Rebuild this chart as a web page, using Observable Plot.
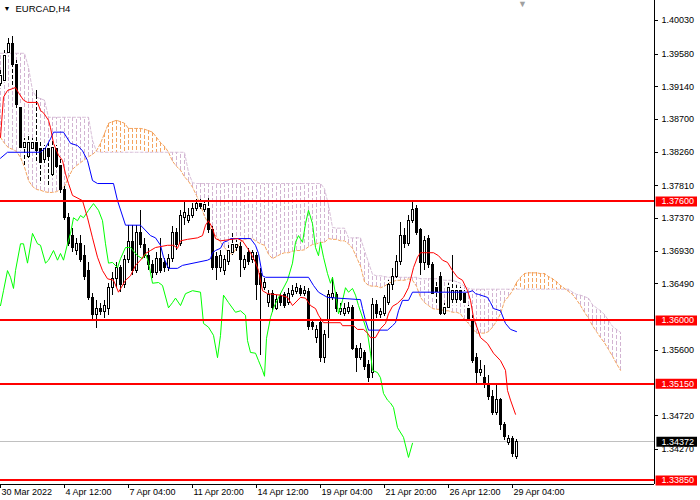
<!DOCTYPE html>
<html><head><meta charset="utf-8">
<script src="https://cdn.jsdelivr.net/npm/d3@7"></script>
<script src="https://cdn.jsdelivr.net/npm/@observablehq/plot@0.6"></script>
<style>body{margin:0;background:#fff;}</style>
</head><body><div id="chart"></div>
<script>
// ---- data (EURCAD H4, bar index 0 = 30 Mar 2022 20:00) ----
const symbolTitle = "EURCAD,H4";
const opens = [1.3918,1.3922,1.3960,1.3971,1.3943,1.3886,1.3832,1.3819,1.3831,1.3838,
1.3831,1.3815,1.3831,1.3795,1.3831,1.3808,1.3775,1.3738,1.3714,1.3694,
1.3703,1.3687,1.3667,1.3630,1.3607,1.3616,1.3611,1.3616,1.3644,1.3656,
1.3670,1.3647,1.3681,1.3705,1.3667,1.3718,1.3701,1.3687,1.3674,1.3664,
1.3683,1.3677,1.3670,1.3683,1.3717,1.3703,1.3737,1.3734,1.3741,1.3750,
1.3757,1.3748,1.3750,1.3721,1.3685,1.3671,1.3667,1.3678,1.3691,1.3697,
1.3699,1.3671,1.3690,1.3681,1.3687,1.3663,1.3644,1.3623,1.3636,1.3616,
1.3631,1.3634,1.3624,1.3634,1.3638,1.3642,1.3636,1.3638,1.3596,1.3577,
1.3596,1.3549,1.3600,1.3630,1.3634,1.3611,1.3609,1.3611,1.3617,1.3562,
1.3550,1.3556,1.3540,1.3530,1.3621,1.3607,1.3609,1.3624,1.3647,1.3658,
1.3678,1.3714,1.3703,1.3734,1.3750,1.3721,1.3677,1.3710,1.3674,1.3643,
1.3658,1.3609,1.3617,1.3627,1.3627,1.3640,1.3636,1.3616,1.3600,1.3549,
1.3529,1.3523,1.3515,1.3497,1.3476,1.3493,1.3459,1.3436,1.3441,1.3417];
const highs = [1.3936,1.3963,1.3979,1.3982,1.3949,1.3889,1.3844,1.3849,1.3844,1.3909,
1.3842,1.3835,1.3839,1.3842,1.3835,1.3819,1.3780,1.3744,1.3724,1.3710,
1.3714,1.3701,1.3678,1.3636,1.3627,1.3623,1.3627,1.3650,1.3664,1.3678,
1.3674,1.3687,1.3728,1.3728,1.3728,1.3748,1.3710,1.3697,1.3681,1.3691,
1.3710,1.3683,1.3689,1.3726,1.3724,1.3748,1.3759,1.3750,1.3757,1.3763,
1.3763,1.3761,1.3764,1.3726,1.3691,1.3694,1.3687,1.3701,1.3718,1.3707,
1.3705,1.3687,1.3697,1.3694,1.3691,1.3670,1.3656,1.3640,1.3640,1.3634,
1.3636,1.3638,1.3643,1.3647,1.3650,1.3647,1.3646,1.3643,1.3600,1.3593,
1.3603,1.3587,1.3640,1.3658,1.3638,1.3623,1.3623,1.3624,1.3620,1.3566,
1.3569,1.3560,1.3546,1.3630,1.3627,1.3616,1.3634,1.3654,1.3670,1.3687,
1.3732,1.3724,1.3741,1.3759,1.3755,1.3724,1.3713,1.3714,1.3678,1.3654,
1.3664,1.3623,1.3650,1.3687,1.3647,1.3644,1.3640,1.3620,1.3607,1.3556,
1.3546,1.3540,1.3526,1.3506,1.3513,1.3495,1.3463,1.3446,1.3444,1.3440];
const lows = [1.3912,1.3920,1.3956,1.3913,1.3882,1.3828,1.3806,1.3815,1.3828,1.3811,
1.3784,1.3808,1.3779,1.3791,1.3802,1.3771,1.3734,1.3699,1.3691,1.3687,
1.3678,1.3654,1.3627,1.3600,1.3589,1.3607,1.3603,1.3607,1.3634,1.3643,
1.3638,1.3643,1.3677,1.3660,1.3663,1.3697,1.3683,1.3667,1.3656,1.3660,
1.3663,1.3664,1.3666,1.3678,1.3694,1.3699,1.3728,1.3730,1.3737,1.3746,
1.3749,1.3742,1.3717,1.3667,1.3654,1.3664,1.3660,1.3674,1.3687,1.3693,
1.3658,1.3667,1.3674,1.3677,1.3627,1.3553,1.3640,1.3617,1.3611,1.3613,
1.3619,1.3616,1.3620,1.3631,1.3635,1.3632,1.3632,1.3587,1.3587,1.3569,
1.3544,1.3542,1.3576,1.3627,1.3611,1.3607,1.3605,1.3608,1.3560,1.3530,
1.3546,1.3533,1.3517,1.3522,1.3603,1.3603,1.3605,1.3620,1.3640,1.3654,
1.3674,1.3697,1.3699,1.3730,1.3714,1.3660,1.3667,1.3670,1.3632,1.3620,
1.3607,1.3607,1.3613,1.3620,1.3620,1.3623,1.3620,1.3597,1.3542,1.3513,
1.3525,1.3509,1.3493,1.3472,1.3472,1.3452,1.3439,1.3432,1.3416,1.3413];
const closes = [1.3928,1.3956,1.3971,1.3943,1.3889,1.3832,1.3839,1.3839,1.3839,1.3828,
1.3811,1.3831,1.3819,1.3832,1.3806,1.3775,1.3738,1.3703,1.3698,1.3703,
1.3681,1.3658,1.3630,1.3607,1.3616,1.3611,1.3620,1.3644,1.3656,1.3670,
1.3647,1.3681,1.3705,1.3667,1.3718,1.3701,1.3687,1.3674,1.3664,1.3683,
1.3667,1.3670,1.3683,1.3717,1.3701,1.3741,1.3744,1.3741,1.3750,1.3757,
1.3753,1.3755,1.3721,1.3671,1.3671,1.3687,1.3681,1.3694,1.3701,1.3702,
1.3681,1.3681,1.3678,1.3690,1.3647,1.3647,1.3651,1.3634,1.3617,1.3627,
1.3623,1.3620,1.3636,1.3640,1.3643,1.3636,1.3640,1.3591,1.3591,1.3587,
1.3549,1.3580,1.3634,1.3636,1.3616,1.3616,1.3616,1.3617,1.3562,1.3550,
1.3562,1.3537,1.3523,1.3621,1.3609,1.3611,1.3630,1.3647,1.3658,1.3678,
1.3714,1.3703,1.3734,1.3748,1.3718,1.3677,1.3707,1.3674,1.3636,1.3638,
1.3609,1.3617,1.3644,1.3640,1.3640,1.3627,1.3624,1.3600,1.3546,1.3530,
1.3533,1.3513,1.3497,1.3476,1.3493,1.3459,1.3443,1.3441,1.3421,1.34372];

// Tenkan-sen (red), Kijun-sen (blue), Chikou span (green): bar index / price
const tenkanX = [0,0.75,1.75,3.75,4.5,5.75,6.75,9.25,10,10.75,12,12.5,13.25,14.5,15.5,16.25,17,18,20.5,21.75,23,24.25,25.5,26.75,28.25,29.5,31.25,32.5,33.75,35,36.25,37.5,38.75,41.75,43.25,44.25,45,46.75,49.25,50.5,51.25,52,53,53.75,55,59.25,60.5,61.75,62.5,63.75,64.5,65.5,66.75,70,71.75,73,75,76.25,77.5,78.75,79.5,80.75,85,85.5,88.25,89.25,90.75,91.75,92.5,93.75,95,96.25,97,98,99.25,100.75,102,103.25,104.25,105,108.25,109.5,110.5,111.75,113,114.25,115.5,116.75,117.5,118.25,120,121.75,123.25,125,126.25,126.75,127.5,128.75];
const tenkanY = [1.3846,1.3900,1.3909,1.3913,1.3906,1.3896,1.3893,1.3893,1.3882,1.3879,1.3869,1.3859,1.3838,1.3822,1.3815,1.3797,1.3784,1.3768,1.3761,1.3738,1.3711,1.3685,1.3667,1.3656,1.3654,1.3638,1.3654,1.3660,1.3674,1.3681,1.3690,1.3694,1.3698,1.3701,1.3701,1.3697,1.3707,1.3709,1.3711,1.3714,1.3728,1.3734,1.3724,1.3710,1.3707,1.3710,1.3707,1.3697,1.3691,1.3678,1.3667,1.3640,1.3636,1.3634,1.3631,1.3620,1.3631,1.3630,1.3620,1.3616,1.3607,1.3597,1.3597,1.3593,1.3593,1.3588,1.3588,1.3583,1.3577,1.3577,1.3589,1.3596,1.3609,1.3619,1.3623,1.3631,1.3644,1.3671,1.3685,1.3691,1.3691,1.3687,1.3681,1.3678,1.3667,1.3658,1.3654,1.3640,1.3627,1.3604,1.3577,1.3569,1.3556,1.3546,1.3533,1.3506,1.3493,1.3474];
const kijunX = [0,1.75,10,11.25,12.5,13.25,15.75,17.5,19.25,20.5,21.75,23,24.25,28.25,29.25,31.25,35,37.5,38.75,40,40.75,42,44.25,45.5,51.75,52.5,53,53.75,55,55.75,56.75,57.5,62.5,63.75,64.5,65.5,66.25,77,78.25,79.5,80.75,81.75,84.25,90,90.5,91.25,92,96.75,98,98.75,99.5,100.5,102,103,117,118,118.75,119.5,121.75,122.5,123.25,125,126.25,127.5,129];
const kijunY = [1.3818,1.3826,1.3826,1.3832,1.3844,1.3853,1.3853,1.3838,1.3835,1.3828,1.3815,1.3788,1.3784,1.3784,1.3761,1.3728,1.3728,1.3714,1.3711,1.3701,1.3685,1.3670,1.3670,1.3674,1.3681,1.3683,1.3691,1.3694,1.3697,1.3705,1.3707,1.3710,1.3710,1.3701,1.3690,1.3660,1.3658,1.3658,1.3647,1.3638,1.3634,1.3631,1.3630,1.3628,1.3616,1.3600,1.3587,1.3587,1.3593,1.3597,1.3613,1.3627,1.3627,1.3638,1.3638,1.3640,1.3636,1.3635,1.3631,1.3624,1.3616,1.3613,1.3596,1.3588,1.3585];
const chikouX = [0,0.75,1.75,2.5,3.25,3.75,5,5.75,6.75,8,9.25,10,11.25,12,13.25,14.25,15,15.75,16.75,17.5,18.25,19.25,20,20.75,22,23.25,24.5,25.5,26.25,27,28,29.25,30,31.25,32.5,34.25,35.5,36.25,37,38,39.5,40.5,42,43,43.75,45,46.25,48,50,50.75,52,53.25,54.25,55,55.75,57,58.75,60,61.25,61.75,62.5,63.75,64.5,65.5,66,66.5,67.5,68.25,70,71.75,73,73.75,74.5,75.5,76.25,77,78,78.75,79.5,80,80.75,81.75,82.5,83,83.75,84.5,85.5,86.25,87,88,88.75,89.5,90.75,91.75,92.5,93,94.25,95,95.75,96.75,97.5,98.25,99.25,100.75,102,103];
const chikouY = [1.3620,1.3640,1.3667,1.3658,1.3643,1.3667,1.3703,1.3703,1.3677,1.3717,1.3703,1.3701,1.3677,1.3681,1.3694,1.3681,1.3690,1.3681,1.3703,1.3717,1.3738,1.3734,1.3741,1.3738,1.3748,1.3757,1.3748,1.3734,1.3703,1.3677,1.3678,1.3671,1.3683,1.3698,1.3698,1.3687,1.3683,1.3690,1.3678,1.3650,1.3651,1.3647,1.3617,1.3624,1.3630,1.3620,1.3636,1.3640,1.3638,1.3596,1.3591,1.3580,1.3550,1.3580,1.3634,1.3624,1.3611,1.3613,1.3607,1.3573,1.3557,1.3556,1.3546,1.3533,1.3525,1.3576,1.3604,1.3617,1.3636,1.3654,1.3677,1.3705,1.3714,1.3705,1.3730,1.3748,1.3730,1.3698,1.3687,1.3705,1.3685,1.3663,1.3650,1.3658,1.3636,1.3609,1.3627,1.3644,1.3638,1.3643,1.3634,1.3620,1.3600,1.3583,1.3556,1.3533,1.3530,1.3523,1.3502,1.3493,1.3489,1.3483,1.3456,1.3443,1.3416,1.3435];

// Senkou span A / B per bar (cloud, shifted 26 bars ahead)
const spanA = [1.3846,1.3838,1.3832,1.3830,1.3827,1.3819,1.3806,1.3788,1.3780,1.3776,
1.3775,1.3773,1.3772,1.3772,1.3773,1.3776,1.3780,1.3792,1.3803,1.3808,
1.3812,1.3816,1.3820,1.3823,1.3828,1.3838,1.3851,1.3865,1.3867,1.3869,
1.3867,1.3865,1.3858,1.3858,1.3858,1.3858,1.3857,1.3855,1.3853,1.3846,
1.3839,1.3834,1.3826,1.3814,1.3807,1.3802,1.3793,1.3787,1.3779,1.3768,
1.3755,1.3740,1.3730,1.3718,1.3713,1.3705,1.3698,1.3691,1.3689,1.3697,
1.3705,1.3709,1.3710,1.3710,1.3706,1.3703,1.3701,1.3689,1.3683,1.3686,
1.3689,1.3691,1.3691,1.3693,1.3694,1.3694,1.3695,1.3699,1.3702,1.3703,
1.3705,1.3705,1.3710,1.3709,1.3709,1.3707,1.3707,1.3703,1.3697,1.3685,
1.3673,1.3652,1.3647,1.3646,1.3646,1.3644,1.3646,1.3650,1.3652,1.3654,
1.3654,1.3654,1.3656,1.3654,1.3646,1.3631,1.3624,1.3620,1.3616,1.3615,
1.3615,1.3613,1.3613,1.3611,1.3611,1.3609,1.3601,1.3596,1.3589,1.3583,
1.3583,1.3583,1.3585,1.3591,1.3599,1.3609,1.3626,1.3632,1.3640,1.3651,
1.3658,1.3663,1.3664,1.3664,1.3664,1.3663,1.3663,1.3659,1.3656,1.3652,
1.3647,1.3643,1.3639,1.3635,1.3628,1.3620,1.3611,1.3603,1.3593,1.3585,
1.3577,1.3570,1.3561,1.3552,1.3542,1.3533];
const spanB = [1.3959,1.3959,1.3959,1.3959,1.3959,1.3959,1.3959,1.3940,1.3909,1.3900,
1.3898,1.3896,1.3873,1.3873,1.3873,1.3873,1.3873,1.3873,1.3873,1.3873,
1.3873,1.3873,1.3873,1.3842,1.3827,1.3826,1.3826,1.3826,1.3826,1.3826,
1.3826,1.3826,1.3826,1.3826,1.3826,1.3826,1.3826,1.3826,1.3826,1.3826,
1.3826,1.3826,1.3826,1.3826,1.3826,1.3826,1.3826,1.3799,1.3785,1.3784,
1.3784,1.3784,1.3784,1.3784,1.3784,1.3784,1.3784,1.3784,1.3784,1.3784,
1.3784,1.3784,1.3784,1.3784,1.3784,1.3784,1.3784,1.3784,1.3784,1.3784,
1.3784,1.3784,1.3784,1.3784,1.3784,1.3784,1.3784,1.3784,1.3784,1.3784,
1.3784,1.3777,1.3755,1.3725,1.3724,1.3724,1.3724,1.3711,1.3711,1.3711,
1.3711,1.3694,1.3678,1.3662,1.3660,1.3660,1.3659,1.3658,1.3658,1.3658,
1.3658,1.3658,1.3658,1.3658,1.3658,1.3656,1.3656,1.3656,1.3656,1.3656,
1.3655,1.3654,1.3654,1.3654,1.3652,1.3650,1.3646,1.3643,1.3642,1.3642,
1.3642,1.3642,1.3642,1.3642,1.3642,1.3642,1.3642,1.3642,1.3642,1.3642,
1.3642,1.3642,1.3642,1.3642,1.3642,1.3642,1.3642,1.3642,1.3642,1.3642,
1.3642,1.3642,1.3642,1.3638,1.3635,1.3634,1.3632,1.3630,1.3621,1.3617,
1.3613,1.3608,1.3600,1.3592,1.3588,1.3584];

const levels = [1.37600, 1.36000, 1.35150, 1.33850];
const bid = 1.34372;
const yTicks = [1.40030,1.39580,1.39140,1.38700,1.38260,1.37810,1.37370,1.36930,1.36490,1.35600,1.34720,1.34270];
const xTicks = [0,16,32,48,64,80,96,112,128];
const xLabels = ["30 Mar 2022","4 Apr 12:00","7 Apr 04:00","11 Apr 20:00","14 Apr 12:00","19 Apr 04:00","21 Apr 20:00","26 Apr 12:00","29 Apr 04:00"];
const shiftIndex = 130;

// ---- layout ----
const X_MAX = 163.5, Y_MIN = 1.33796, Y_MAX = 1.40299;
const PX = (Y_MAX - Y_MIN) / 484;
const candles = opens.map((o, i) => ({i, open: o, high: highs[i], low: lows[i], close: closes[i], up: closes[i] >= o}));
const cloud = spanA.map((a, i) => ({i, a, b: spanB[i]}));
const pts = (xs, ys) => xs.map((x, k) => ({x, y: ys[k]}));
// parts of each wick that fall inside the cloud (drawn dashed, as the hatch crosses them)
const wickInCloud = [];
candles.forEach(d => {
  const c = cloud[d.i];
  const lo = Math.min(c.a, c.b), hi = Math.max(c.a, c.b);
  const segs = [[Math.max(d.open, d.close), d.high], [d.low, Math.min(d.open, d.close)]];
  for (const [s1, s2] of segs) {
    const y1 = Math.max(s1, lo), y2 = Math.min(s2, hi);
    if (y2 > y1) wickInCloud.push({i: d.i, y1, y2});
  }
});
const FONT = "'Liberation Sans', Arial, sans-serif";

const chart = Plot.plot({
  width: 700, height: 500,
  marginLeft: 0, marginRight: 46, marginTop: 0, marginBottom: 16,
  x: {domain: [0, X_MAX], axis: null},
  y: {domain: [Y_MIN, Y_MAX], axis: null},
  style: {background: "#fff", fontFamily: FONT, fontSize: "9px", color: "#000", overflow: "visible"},
  marks: [
    Plot.ruleY([bid], {stroke: "#c0c0c0", shapeRendering: "crispEdges"}),
    // cloud hatch
    Plot.ruleX(cloud.filter(d => d.a > d.b), {x: "i", y1: "a", y2: "b", stroke: "#f4a460", strokeDasharray: "4,2", shapeRendering: "crispEdges"}),
    Plot.ruleX(cloud.filter(d => d.a <= d.b), {x: "i", y1: "a", y2: "b", stroke: "#d2b4d2", strokeDasharray: "4,2", shapeRendering: "crispEdges"}),
    Plot.line(cloud, {x: "i", y: "b", stroke: "#d8bfd8", strokeWidth: 1, strokeDasharray: "3,2"}),
    Plot.line(cloud, {x: "i", y: "a", stroke: "#f4a460", strokeWidth: 1, strokeDasharray: "3,2"}),
    // candles
    Plot.ruleX(candles, {x: "i", y1: "low", y2: "high", stroke: "#000", shapeRendering: "crispEdges"}),
    Plot.ruleX(wickInCloud, {x: "i", y1: "y1", y2: "y2", stroke: "#fff", strokeDasharray: "2,4", shapeRendering: "crispEdges"}),
    Plot.rect(candles.filter(d => d.up), {x1: d => d.i - 0.25, x2: d => d.i + 0.25, y1: "open", y2: "close", fill: "#fff", stroke: "#000", shapeRendering: "crispEdges"}),
    Plot.rect(candles.filter(d => !d.up), {x1: d => d.i - 0.25, x2: d => d.i + 0.25, y1: "open", y2: "close", fill: "#000", stroke: "#000", shapeRendering: "crispEdges"}),
    // ichimoku lines
    Plot.line(pts(chikouX, chikouY), {x: "x", y: "y", stroke: "#00ff00", strokeWidth: 1}),
    Plot.line(pts(kijunX, kijunY), {x: "x", y: "y", stroke: "#0000ff", strokeWidth: 1}),
    Plot.line(pts(tenkanX, tenkanY), {x: "x", y: "y", stroke: "#ff0000", strokeWidth: 1}),
    // support / resistance levels
    Plot.ruleY(levels, {stroke: "#ff0000", strokeWidth: 2, shapeRendering: "crispEdges"}),
    // axes
    Plot.ruleX([X_MAX], {stroke: "#000", shapeRendering: "crispEdges"}),
    Plot.ruleY([Y_MIN], {stroke: "#000", shapeRendering: "crispEdges"}),
    Plot.ruleY(yTicks, {y: d => d, x1: X_MAX, x2: X_MAX + 1, stroke: "#000", shapeRendering: "crispEdges"}),
    Plot.text(yTicks, {x: () => X_MAX, y: d => d, dx: 7, text: d => d.toFixed(5), textAnchor: "start", fontSize: 9, fill: "#000"}),
    Plot.ruleX(xTicks, {x: d => d, y1: Y_MIN, y2: Y_MIN - 4 * PX, stroke: "#000", shapeRendering: "crispEdges"}),
    Plot.text(xTicks, {x: d => d, text: (d, k) => xLabels[k], frameAnchor: "bottom", dy: 10, dx: 1, textAnchor: "start", fontSize: 9, fill: "#000"}),
    // price labels
    Plot.ruleY(levels, {y: d => d, x1: X_MAX + 0.4, x2: X_MAX + 10.75, stroke: "#ff0000", strokeWidth: 10}),
    Plot.text(levels, {x: () => X_MAX, y: d => d, dx: 7, text: d => d.toFixed(5), textAnchor: "start", fontSize: 9, fill: "#fff"}),
    Plot.ruleY([bid], {y: d => d, x1: X_MAX + 0.6, x2: X_MAX + 10.75, stroke: "#000", strokeWidth: 10}),
    Plot.text([bid], {x: () => X_MAX, y: d => d, dx: 7, text: d => d.toFixed(5), textAnchor: "start", fontSize: 9, fill: "#fff"}),
    // title & chart-shift marker
    Plot.text(["\u25BC"], {frameAnchor: "top-left", dx: 3, dy: 8, lineAnchor: "middle", textAnchor: "start", fontSize: 7, fill: "#000"}),
    Plot.text([symbolTitle], {frameAnchor: "top-left", dx: 15, dy: 8, lineAnchor: "middle", textAnchor: "start", fontSize: 9.5, fill: "#000"}),
    Plot.text(["\u25BC"], {x: () => shiftIndex + 0.5, frameAnchor: "top", dy: 4, lineAnchor: "middle", fontSize: 9, fill: "#a0a0a0"})
  ]
});
document.getElementById("chart").appendChild(chart);
</script>
</body></html>
